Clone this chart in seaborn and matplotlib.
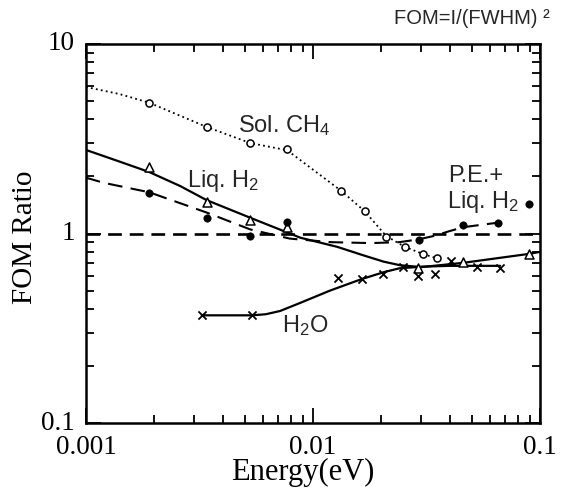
import numpy as np
import pandas as pd
import matplotlib
matplotlib.use("Agg")
import matplotlib.pyplot as plt
import seaborn as sns
from matplotlib.ticker import NullFormatter, LogLocator

# ---- data ----
# Sol. CH4 (open circles, dotted fit)
ch4_x = [0.0019, 0.0034, 0.0053, 0.0077, 0.0133, 0.0169, 0.021, 0.0254, 0.0305, 0.035]
ch4_y = [4.88, 3.65, 3.0, 2.79, 1.68, 1.31, 0.96, 0.85, 0.78, 0.74]
ch4_fit_x = [0.001, 0.0014, 0.0019, 0.0034, 0.0053, 0.0077, 0.0133, 0.0169, 0.021, 0.0254, 0.0305, 0.035]
ch4_fit_y = [5.93, 5.45, 4.9, 3.65, 3.0, 2.75, 1.68, 1.31, 0.97, 0.85, 0.78, 0.74]

# Liq. H2 (open triangles, solid fit)
lh2_x = [0.0019, 0.0034, 0.0053, 0.0077, 0.029, 0.0458, 0.089]
lh2_y = [2.24, 1.47, 1.18, 1.08, 0.66, 0.71, 0.78]
lh2_fit_x = [0.001, 0.0014, 0.0019, 0.0026, 0.0034, 0.0053, 0.0088, 0.0128, 0.0165,
             0.0205, 0.0242, 0.03, 0.0458, 0.089, 0.1]
lh2_fit_y = [2.76, 2.4, 2.11, 1.78, 1.5, 1.21, 0.95, 0.85, 0.77,
             0.71, 0.68, 0.665, 0.70, 0.78, 0.80]

# P.E. + Liq. H2 (filled circles, dashed fit)
pe_x = [0.0019, 0.0034, 0.0053, 0.0077, 0.0293, 0.0458, 0.0653, 0.089]
pe_y = [1.64, 1.21, 0.97, 1.15, 0.92, 1.11, 1.13, 1.43]
pe_fit_x = [0.001, 0.0012, 0.0019, 0.0034, 0.0053, 0.0079, 0.012, 0.018, 0.024,
            0.029, 0.034, 0.04, 0.046, 0.065]
pe_fit_y = [1.97, 1.85, 1.65, 1.29, 1.05, 0.94, 0.90, 0.89, 0.90,
            0.93, 0.97, 1.03, 1.08, 1.14]

# H2O (crosses, solid fit)
h2o_x = [0.00324, 0.00539, 0.0129, 0.0164, 0.0203, 0.0249, 0.029, 0.0345, 0.0405, 0.0528, 0.0667]
h2o_y = [0.37, 0.37, 0.58, 0.575, 0.61, 0.666, 0.60, 0.61, 0.72, 0.666, 0.655]
h2o_fit_x = [0.00324, 0.00539, 0.0062, 0.00716, 0.00877, 0.0119, 0.0164, 0.0205,
             0.024, 0.03, 0.04, 0.0667]
h2o_fit_y = [0.37, 0.37, 0.375, 0.39, 0.43, 0.50, 0.575, 0.625,
             0.655, 0.668, 0.675, 0.675]

# reference line at ratio 1
ref_x = [0.001, 0.1]
ref_y = [1.0, 1.0]

xticks = [0.001, 0.01, 0.1]
xtick_labels = ["0.001", "0.01", "0.1"]
yticks = [0.1, 1, 10]
ytick_labels = ["0.1", "1", "10"]

# ---- style ----
sns.set_theme(style="ticks")
plt.rcParams["font.family"] = ["Liberation Serif", "DejaVu Serif"]
plt.rcParams["mathtext.fontset"] = "custom"
plt.rcParams["mathtext.rm"] = "Liberation Sans"
plt.rcParams["mathtext.it"] = "Liberation Sans:italic"
plt.rcParams["mathtext.default"] = "regular"

fig = plt.figure(figsize=(5.61, 4.88), dpi=100)
ax = fig.add_axes([86 / 561, 65 / 488, 454 / 561, 379 / 488])
ax.set_xscale("log")
ax.set_yscale("log")

k = "black"
sns.lineplot(x=ch4_fit_x, y=ch4_fit_y, ax=ax, color=k, lw=1.3,
             linestyle=(0, (1, 1.8)), estimator=None, sort=False)
sns.lineplot(x=lh2_fit_x, y=lh2_fit_y, ax=ax, color=k, lw=1.6,
             estimator=None, sort=False)
sns.lineplot(x=pe_fit_x, y=pe_fit_y, ax=ax, color=k, lw=1.5,
             linestyle=(0, (7, 4)), estimator=None, sort=False)
sns.lineplot(x=h2o_fit_x, y=h2o_fit_y, ax=ax, color=k, lw=1.6,
             estimator=None, sort=False)
sns.lineplot(x=ref_x, y=ref_y, ax=ax, color=k, lw=1.9,
             linestyle=(0, (5.2, 3)), estimator=None, sort=False)

sns.scatterplot(x=ch4_x, y=ch4_y, ax=ax, marker="o", s=26,
                facecolor="white", edgecolor=k, linewidth=1.1, zorder=5)
sns.scatterplot(x=lh2_x, y=lh2_y, ax=ax, marker="^", s=42,
                facecolor="white", edgecolor=k, linewidth=1.1, zorder=5)
sns.scatterplot(x=pe_x, y=pe_y, ax=ax, marker="o", s=28,
                color=k, edgecolor=k, linewidth=0.5, zorder=5)
sns.scatterplot(x=h2o_x, y=h2o_y, ax=ax, marker="x", s=34,
                color=k, linewidth=1.3, zorder=5)

ax.set_xlim(0.001, 0.1)
ax.set_ylim(0.1, 10)
ax.set_xticks(xticks, xtick_labels)
ax.set_yticks(yticks, ytick_labels)
for lbl in ax.get_yticklabels():
    lbl.set_verticalalignment("center")
ax.xaxis.set_minor_locator(LogLocator(base=10, subs=np.arange(2, 10)))
ax.yaxis.set_minor_locator(LogLocator(base=10, subs=np.arange(2, 10)))
ax.xaxis.set_minor_formatter(NullFormatter())
ax.yaxis.set_minor_formatter(NullFormatter())
ax.tick_params(which="both", direction="in", top=True, right=True,
               colors=k, width=1.3, labelsize=19.5)
ax.tick_params(which="major", length=11)
ax.tick_params(which="minor", length=6)
ax.tick_params(axis="x", which="major", pad=8.5)
ax.tick_params(axis="y", which="major", pad=8)
for sp in ax.spines.values():
    sp.set_linewidth(1.8)
    sp.set_color(k)
    sp.set_visible(True)

ax.set_xlabel("Energy(eV)", fontsize=22, color=k)
ax.set_ylabel("FOM Ratio", fontsize=21, color=k)
ax.xaxis.set_label_coords(0.478, -0.093)
ax.yaxis.set_label_coords(-0.105, 0.49)

sans = ["Liberation Sans", "DejaVu Sans"]
ax.text(0.335, 0.768, "Sol. CH$_4$", transform=ax.transAxes, fontsize=17,
        family=sans, ha="left", va="baseline")
ax.text(0.222, 0.623, "Liq. H$_2$", transform=ax.transAxes, fontsize=17,
        family=sans, ha="left", va="baseline")
ax.text(0.797, 0.636, "P.E.+", transform=ax.transAxes, fontsize=17,
        family=sans, ha="left", va="baseline")
ax.text(0.795, 0.567, "Liq. H$_2$", transform=ax.transAxes, fontsize=17,
        family=sans, ha="left", va="baseline")
ax.text(0.432, 0.240, "H$_2$O", transform=ax.transAxes, fontsize=17,
        family=sans, ha="left", va="baseline")
fig.text(550 / 561, 1 - 24 / 488, "FOM=I/(FWHM) ²", fontsize=14.5,
         family=sans, ha="right", va="baseline")

fig.savefig("out.png", dpi=100, facecolor="white")
